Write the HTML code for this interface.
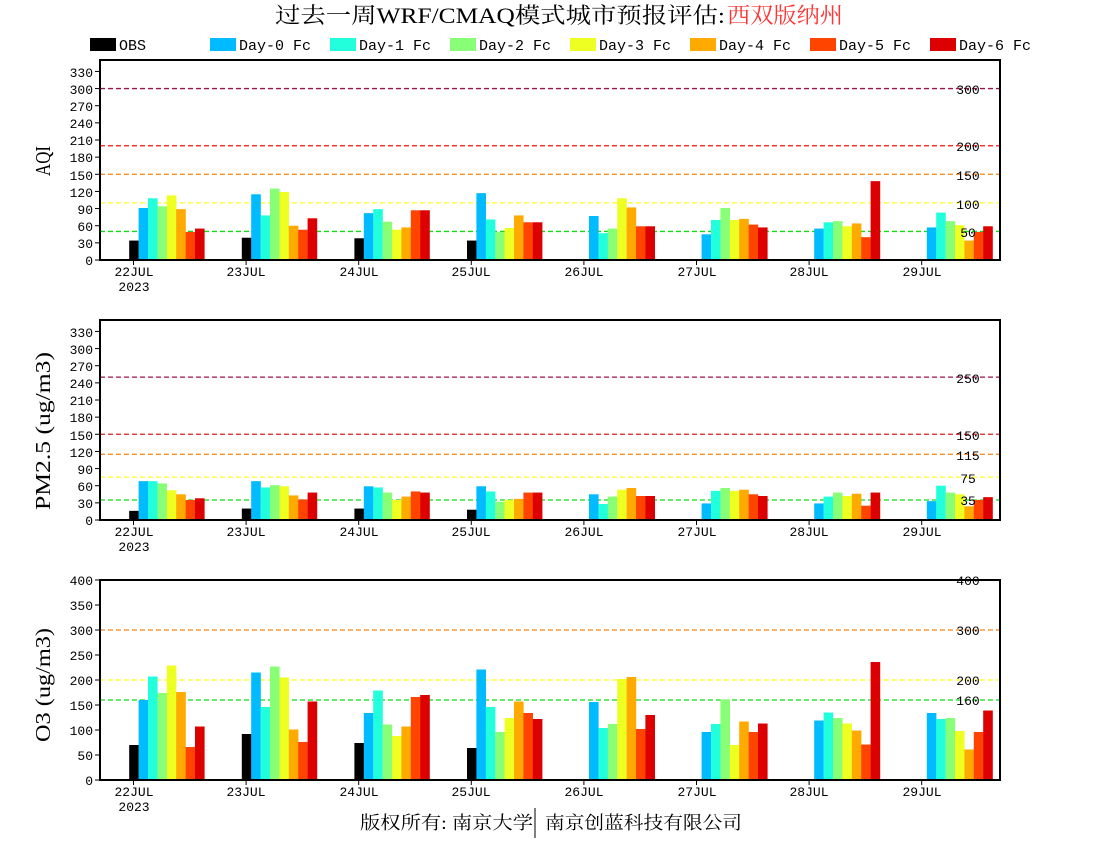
<!DOCTYPE html>
<html><head><meta charset="utf-8"><style>
html,body{margin:0;padding:0;background:#fff;}
svg{display:block;}
.t{font-family:"Liberation Mono",monospace;font-size:13px;fill:#000;}
.lg{font-family:"Liberation Mono",monospace;font-size:15px;fill:#000;}
.yl{font-family:"Liberation Serif","Noto Serif CJK SC",serif;font-size:21px;fill:#000;}
.cj{font-family:"Liberation Serif","Noto Serif CJK SC",serif;}
</style></head><body>
<svg id="s" width="1100" height="850" xmlns="http://www.w3.org/2000/svg">
<rect width="1100" height="850" fill="#fff"/>
<text class="cj" x="275" y="23" font-size="22" textLength="450" lengthAdjust="spacingAndGlyphs">过去一周WRF/CMAQ模式城市预报评估:</text>
<text class="cj" x="727" y="23" font-size="22" fill="#ff3333" textLength="116" lengthAdjust="spacingAndGlyphs">西双版纳州</text>
<g id="leg"></g>
<g id="plots"></g>
<g class="t" text-anchor="end">
<text x="93" y="265">0</text><text x="93" y="248">30</text><text x="93" y="231">60</text><text x="93" y="214">90</text><text x="93" y="197">120</text><text x="93" y="180">150</text><text x="93" y="162">180</text><text x="93" y="145">210</text><text x="93" y="128">240</text><text x="93" y="111">270</text><text x="93" y="94">300</text><text x="93" y="77">330</text>
<text x="93" y="525">0</text><text x="93" y="508">30</text><text x="93" y="491">60</text><text x="93" y="474">90</text><text x="93" y="457">120</text><text x="93" y="440">150</text><text x="93" y="422">180</text><text x="93" y="405">210</text><text x="93" y="388">240</text><text x="93" y="371">270</text><text x="93" y="354">300</text><text x="93" y="337">330</text>
<text x="93" y="785">0</text><text x="93" y="760">50</text><text x="93" y="735">100</text><text x="93" y="710">150</text><text x="93" y="685">200</text><text x="93" y="660">250</text><text x="93" y="635">300</text><text x="93" y="610">350</text><text x="93" y="585">400</text>
</g>
<g class="t" text-anchor="middle">
<text x="968" y="94">300</text><text x="968" y="151">200</text><text x="968" y="180">150</text><text x="968" y="209">100</text><text x="968" y="237">50</text>
<text x="968" y="383">250</text><text x="968" y="440">150</text><text x="968" y="460">115</text><text x="968" y="483">75</text><text x="968" y="505">35</text>
<text x="968" y="585">400</text><text x="968" y="635">300</text><text x="968" y="685">200</text><text x="968" y="705">160</text>
</g>
<g class="t" text-anchor="middle">
<text x="134" y="276">22JUL</text><text x="134" y="291">2023</text><text x="246" y="276">23JUL</text><text x="359" y="276">24JUL</text><text x="471" y="276">25JUL</text><text x="584" y="276">26JUL</text><text x="697" y="276">27JUL</text><text x="809" y="276">28JUL</text><text x="922" y="276">29JUL</text>
<text x="134" y="536">22JUL</text><text x="134" y="551">2023</text><text x="246" y="536">23JUL</text><text x="359" y="536">24JUL</text><text x="471" y="536">25JUL</text><text x="584" y="536">26JUL</text><text x="697" y="536">27JUL</text><text x="809" y="536">28JUL</text><text x="922" y="536">29JUL</text>
<text x="134" y="796">22JUL</text><text x="134" y="811">2023</text><text x="246" y="796">23JUL</text><text x="359" y="796">24JUL</text><text x="471" y="796">25JUL</text><text x="584" y="796">26JUL</text><text x="697" y="796">27JUL</text><text x="809" y="796">28JUL</text><text x="922" y="796">29JUL</text>
</g>
<g class="lg">
<text x="119" y="50">OBS</text><text x="239" y="50">Day-0 Fc</text><text x="359" y="50">Day-1 Fc</text><text x="479" y="50">Day-2 Fc</text><text x="599" y="50">Day-3 Fc</text><text x="719" y="50">Day-4 Fc</text><text x="839" y="50">Day-5 Fc</text><text x="959" y="50">Day-6 Fc</text>
</g>
<text class="yl" transform="translate(50,161) rotate(-90)" text-anchor="middle" textLength="30" lengthAdjust="spacingAndGlyphs">AQI</text>
<text class="yl" transform="translate(50,431) rotate(-90)" text-anchor="middle" textLength="158" lengthAdjust="spacingAndGlyphs">PM2.5 (ug/m3)</text>
<text class="yl" transform="translate(50,685) rotate(-90)" text-anchor="middle" textLength="114" lengthAdjust="spacingAndGlyphs">O3 (ug/m3)</text>
<text class="cj" x="360" y="829" font-size="18" textLength="173" lengthAdjust="spacingAndGlyphs">版权所有: 南京大学</text>
<line x1="535" y1="808" x2="535" y2="838" stroke="#000" stroke-width="1"/>
<text class="cj" x="545" y="829" font-size="18" textLength="197" lengthAdjust="spacingAndGlyphs">南京创蓝科技有限公司</text>
</svg>
<script>
var NS="http://www.w3.org/2000/svg";
var cols=["#000000","#00bbff","#22ffdd","#88ff77","#eeff22","#ffaa00","#ff4400","#dd0000"];
function el(n,a,p){var e=document.createElementNS(NS,n);for(var k in a)e.setAttribute(k,a[k]);p.appendChild(e);return e;}
var leg=document.getElementById("leg");
for(var i=0;i<8;i++)el("rect",{x:90+i*120,y:38,width:26,height:13,fill:cols[i]},leg);
var P=document.getElementById("plots");
var panels=[
{top:60,max:350,ticks:[0,30,60,90,120,150,180,210,240,270,300,330],
 refs:[[300,"#a0104a"],[200,"#ff1010"],[150,"#ff8010"],[100,"#ffff20"],[50,"#10dd10"]],
 d:[[34,91,108,94,113,89,49,55],[39,115,78,125,119,60,53,73],[38,82,89,67,53,57,87,87],[34,117,71,49,56,78,66,66],[null,77,47,55,108,92,59,59],[null,45,70,91,70,72,62,57],[null,55,66,68,59,64,40,138],[null,57,83,68,61,34,49,59]]},
{top:320,max:350,ticks:[0,30,60,90,120,150,180,210,240,270,300,330],
 refs:[[250,"#a0104a"],[150,"#dd2020"],[115,"#ff8010"],[75,"#ffff20"],[35,"#10dd10"]],
 d:[[16,68,68,64,52,45,35,38],[20,68,57,61,59,43,36,48],[20,59,57,48,35,41,50,48],[18,59,50,32,35,37,48,48],[null,45,28,41,53,56,42,42],[null,29,51,56,51,53,45,42],[null,29,41,48,42,46,25,48],[null,33,60,48,45,24,35,40]]},
{top:580,max:400,ticks:[0,50,100,150,200,250,300,350,400],
 refs:[[400,"#ff1010"],[300,"#ff8010"],[200,"#ffff20"],[160,"#10dd10"]],
 d:[[70,160,207,174,229,176,66,107],[92,215,146,227,205,101,76,157],[74,134,179,111,88,107,166,170],[64,221,146,96,124,157,134,122],[null,156,104,112,202,206,102,130],[null,96,112,161,70,117,96,113],[null,119,135,124,113,99,71,236],[null,134,122,124,98,61,96,139]]}
];
panels.forEach(function(p){
  var bot=p.top+200,sc=200/p.max;
  p.refs.forEach(function(r){var y=bot-r[0]*sc;el("line",{x1:100,x2:1000,y1:y,y2:y,stroke:r[1],"stroke-width":1.3,"stroke-dasharray":"5,3"},P);});
  for(var g=0;g<8;g++){
    var tx=133.5+g*112.6;
    for(var i=0;i<8;i++){var v=p.d[g][i];if(v==null)continue;
      var h=v*sc;el("rect",{x:tx-4.3+i*9.4,y:bot-h,width:9.6,height:h,fill:cols[i]},P);}
    el("line",{x1:tx,x2:tx,y1:bot,y2:bot+5,stroke:"#000","stroke-width":1},P);
  }
  p.ticks.forEach(function(t){var y=bot-t*sc;el("line",{x1:95,x2:100,y1:y,y2:y,stroke:"#000","stroke-width":1},P);});
  el("rect",{x:100,y:p.top,width:900,height:200,fill:"none",stroke:"#000","stroke-width":2},P);
});
</script>
</body></html>
